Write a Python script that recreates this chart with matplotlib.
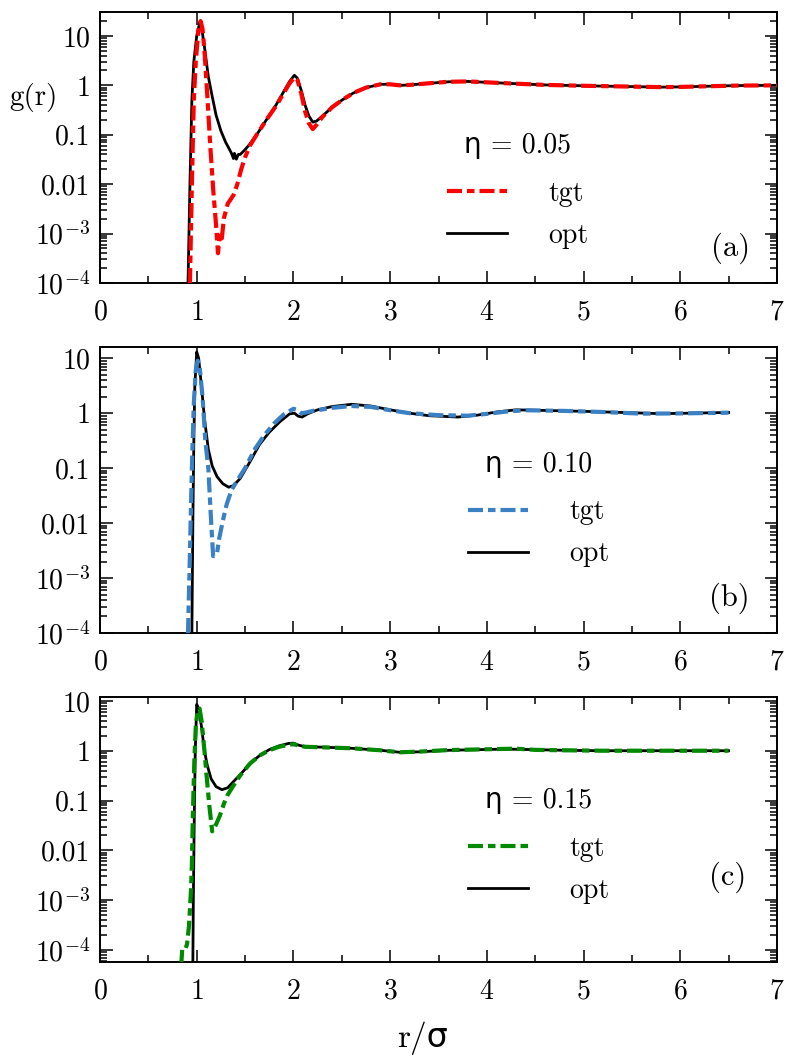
import matplotlib
matplotlib.use("Agg")
import matplotlib.pyplot as plt
from matplotlib.ticker import FixedLocator, FixedFormatter, LogLocator, MultipleLocator, NullFormatter

plt.rcParams['font.family'] = ['cmr10', 'DejaVu Sans']
plt.rcParams['mathtext.fontset'] = 'cm'
plt.rcParams['axes.formatter.use_mathtext'] = True
plt.rcParams['axes.unicode_minus'] = False

# ---------------- data ----------------
# panel (a) eta = 0.05
a_opt_r = [0.91, 0.93, 0.95, 0.97, 1.00, 1.03, 1.05, 1.08, 1.12, 1.16, 1.20, 1.25, 1.30, 1.34, 1.36,
           1.38, 1.39, 1.41, 1.43, 1.45, 1.50, 1.55, 1.62, 1.72, 1.82, 1.90, 1.96, 2.01, 2.04, 2.08,
           2.12, 2.16, 2.20, 2.24, 2.30, 2.40, 2.50, 2.62, 2.75, 2.90, 3.00, 3.10, 3.20, 3.40, 3.60,
           3.80, 4.00, 4.30, 4.60, 5.00, 5.40, 5.80, 6.00, 6.30, 6.60, 7.00]
a_opt_g = [1e-4, 0.01, 0.5, 3.0, 10.0, 18.0, 15.0, 6.0, 1.5, 0.6, 0.25, 0.12, 0.07, 0.05, 0.042,
           0.033, 0.042, 0.032, 0.040, 0.040, 0.050, 0.065, 0.10, 0.20, 0.40, 0.75, 1.2, 1.6, 1.4, 0.8,
           0.4, 0.24, 0.18, 0.19, 0.24, 0.36, 0.50, 0.70, 0.90, 1.05, 1.05, 1.0, 1.02, 1.10, 1.18,
           1.20, 1.15, 1.08, 1.02, 0.98, 0.95, 0.92, 0.93, 0.96, 0.99, 1.0]
a_tgt_r = [0.93, 0.95, 0.97, 0.99, 1.02, 1.04, 1.06, 1.08, 1.11, 1.14, 1.17, 1.20, 1.22, 1.24, 1.26,
           1.28, 1.32, 1.38, 1.42, 1.46, 1.50, 1.55, 1.62, 1.72, 1.82, 1.90, 1.96, 2.01, 2.04, 2.08,
           2.12, 2.16, 2.20, 2.24, 2.30, 2.40, 2.50, 2.62, 2.75, 2.90, 3.00, 3.10, 3.20, 3.40, 3.60,
           3.80, 4.00, 4.30, 4.60, 5.00, 5.40, 5.80, 6.00, 6.30, 6.60, 7.00]
a_tgt_g = [1e-4, 0.01, 0.5, 3.0, 15.0, 20.0, 14.0, 5.0, 0.6, 0.06, 0.008, 0.0015, 4e-4, 1e-3, 8e-4,
           2e-3, 4e-3, 6e-3, 0.01, 0.02, 0.035, 0.06, 0.10, 0.20, 0.38, 0.70, 1.1, 1.45, 1.3, 0.7,
           0.3, 0.17, 0.13, 0.16, 0.23, 0.36, 0.50, 0.70, 0.90, 1.05, 1.05, 1.0, 1.02, 1.10, 1.18,
           1.20, 1.15, 1.08, 1.02, 0.98, 0.95, 0.92, 0.93, 0.96, 0.99, 1.0]

# panel (b) eta = 0.10
b_opt_r = [0.95, 0.96, 0.97, 0.98, 1.00, 1.02, 1.05, 1.08, 1.12, 1.16, 1.21, 1.27, 1.33, 1.38, 1.45,
           1.55, 1.65, 1.75, 1.86, 1.96, 2.01, 2.05, 2.09, 2.15, 2.25, 2.40, 2.60, 2.80, 3.00, 3.20,
           3.40, 3.70, 3.90, 4.10, 4.30, 4.60, 5.00, 5.40, 5.80, 6.10, 6.50]
b_opt_g = [1e-4, 0.01, 0.3, 3.0, 13.0, 10.0, 3.0, 0.8, 0.22, 0.11, 0.07, 0.052, 0.045, 0.048, 0.065,
           0.13, 0.27, 0.45, 0.70, 0.97, 1.0, 0.88, 0.85, 0.98, 1.15, 1.32, 1.45, 1.35, 1.15, 1.0,
           0.90, 0.85, 0.92, 1.05, 1.15, 1.12, 1.08, 1.03, 0.98, 1.0, 1.03]
b_tgt_r = [0.91, 0.93, 0.95, 0.97, 0.99, 1.01, 1.03, 1.06, 1.09, 1.12, 1.15, 1.17, 1.19, 1.21, 1.23,
           1.27, 1.31, 1.36, 1.42, 1.50, 1.60, 1.70, 1.80, 1.90, 2.00, 2.04, 2.08, 2.12, 2.20, 2.40,
           2.60, 2.80, 3.00, 3.20, 3.50, 3.80, 4.00, 4.20, 4.40, 4.80, 5.20, 5.60, 6.00, 6.50]
b_tgt_g = [1e-4, 0.003, 0.1, 1.5, 6.0, 9.0, 7.0, 2.0, 0.3, 0.1, 0.01, 0.0025, 0.0026, 0.0028, 0.005,
           0.011, 0.022, 0.04, 0.06, 0.10, 0.22, 0.40, 0.65, 0.95, 1.2, 1.15, 1.0, 1.02, 1.1, 1.25,
           1.35, 1.3, 1.13, 1.0, 0.92, 0.90, 0.97, 1.07, 1.13, 1.10, 1.05, 0.98, 0.99, 1.02]

# panel (c) eta = 0.15
c_opt_r = [0.96, 0.965, 0.975, 0.985, 1.00, 1.02, 1.05, 1.08, 1.11, 1.15, 1.20, 1.26, 1.32, 1.38,
           1.45, 1.55, 1.65, 1.75, 1.85, 1.95, 2.00, 2.05, 2.12, 2.30, 2.60, 2.90, 3.10, 3.30, 3.60,
           3.90, 4.20, 4.50, 4.80, 5.20, 5.60, 6.00, 6.50]
c_opt_g = [5e-5, 1e-3, 0.05, 1.0, 8.5, 7.0, 3.0, 1.0, 0.5, 0.27, 0.19, 0.165, 0.18, 0.24,
           0.33, 0.55, 0.80, 1.05, 1.25, 1.4, 1.42, 1.3, 1.2, 1.18, 1.12, 1.02, 0.93, 0.95, 1.02,
           1.05, 1.08, 1.05, 1.02, 1.0, 1.0, 1.0, 1.0]
c_tgt_r = [0.84, 0.85, 0.88, 0.90, 0.92, 0.94, 0.95, 0.96, 0.975, 0.99, 1.01, 1.03, 1.05, 1.08, 1.10,
           1.13, 1.16, 1.20, 1.24, 1.28, 1.32, 1.38, 1.45, 1.55, 1.65, 1.75, 1.85, 1.95, 2.00, 2.05,
           2.12, 2.30, 2.60, 2.90, 3.10, 3.30, 3.60, 3.90, 4.30, 4.50, 4.80, 5.20, 5.60, 6.00, 6.50]
c_tgt_g = [5e-5, 1e-4, 1e-4, 1.3e-4, 3e-4, 1.5e-3, 5e-3, 0.05, 0.6, 3.0, 6.5, 7.0, 4.0, 1.0, 0.35,
           0.08, 0.024, 0.033, 0.05, 0.085, 0.13, 0.2, 0.32, 0.55, 0.80, 1.02, 1.2, 1.32, 1.35, 1.28,
           1.2, 1.17, 1.12, 1.02, 0.93, 0.96, 1.03, 1.06, 1.10, 1.04, 1.02, 1.0, 1.0, 1.0, 1.0]

etas = ["0.05", "0.10", "0.15"]
panel_tags = ["(a)", "(b)", "(c)"]
tgt_colors = ["#ff0000", "#3a80c4", "#008a00"]
ytick_vals = [1e-4, 1e-3, 0.01, 0.1, 1, 10]
ytick_labels = [r"$10^{-4}$", r"$10^{-3}$", "0.01", "0.1", "1", "10"]
xtick_vals = [0, 1, 2, 3, 4, 5, 6, 7]

panels = [
    (a_tgt_r, a_tgt_g, a_opt_r, a_opt_g),
    (b_tgt_r, b_tgt_g, b_opt_r, b_opt_g),
    (c_tgt_r, c_tgt_g, c_opt_r, c_opt_g),
]

# ---------------- layout ----------------
W, H = 786, 1063
fig = plt.figure(figsize=(W / 100, H / 100), dpi=100)

def frac_rect(left_px, top_px, right_px, bottom_px):
    return [left_px / W, 1 - bottom_px / H, (right_px - left_px) / W, (bottom_px - top_px) / H]

rects = [frac_rect(100, 12, 777, 283), frac_rect(100, 347, 777, 633), frac_rect(100, 697, 777, 962)]
ylims = [(1e-4, 30.5), (1e-4, 16.0), (5.7e-5, 12.0)]
legend_anchor = [(0.5126, 0.553), (0.5436, 0.633), (0.5436, 0.656)]
tag_pos = [(0.96, 0.13), (0.96, 0.12), (0.955, 0.32)]

dash = (0, (3.6, 1.2, 1.8, 1.2))

for i, (tr, tg, orr, og) in enumerate(panels):
    ax = fig.add_axes(rects[i])
    ax.plot(orr, og, color="black", lw=2.0, label="opt", zorder=2)
    ax.plot(tr, tg, color=tgt_colors[i], lw=3.0, linestyle=dash, label="tgt", zorder=3)
    ax.set_yscale("log")
    ax.set_xlim(0, 7)
    ax.set_ylim(*ylims[i])
    ax.xaxis.set_major_locator(FixedLocator(xtick_vals))
    ax.xaxis.set_minor_locator(MultipleLocator(0.5))
    ax.yaxis.set_major_locator(FixedLocator(ytick_vals))
    ax.yaxis.set_major_formatter(FixedFormatter(ytick_labels))
    ax.yaxis.set_minor_locator(LogLocator(base=10, subs=[2, 3, 4, 5, 6, 7, 8, 9], numticks=20))
    ax.yaxis.set_minor_formatter(NullFormatter())
    ax.tick_params(which="both", direction="in", top=True, right=True, width=1.1, labelsize=20)
    ax.tick_params(which="major", length=9, pad=7)
    ax.tick_params(which="minor", length=5)
    ax.tick_params(axis="x", which="major", pad=12)
    for s in ax.spines.values():
        s.set_linewidth(1.4)
    h, l = ax.get_legend_handles_labels()
    leg = ax.legend([h[1], h[0]], [l[1], l[0]], title="η = " + etas[i], frameon=False,
                    fontsize=20, title_fontsize=20, handlelength=2.15, handletextpad=1.5,
                    labelspacing=0.56, loc="upper left", bbox_to_anchor=legend_anchor[i],
                    borderaxespad=0, borderpad=0)
    leg._legend_box.sep = 15
    ax.text(tag_pos[i][0], tag_pos[i][1], panel_tags[i], transform=ax.transAxes,
            ha="right", va="center", fontsize=22)

fig.text(33 / W, 1 - 97 / H, "g(r)", ha="center", va="center", fontsize=21)
fig.text(422 / W, 1 - 1038 / H, "r/σ", ha="center", va="center", fontsize=24)

fig.savefig("out.png", dpi=100)
